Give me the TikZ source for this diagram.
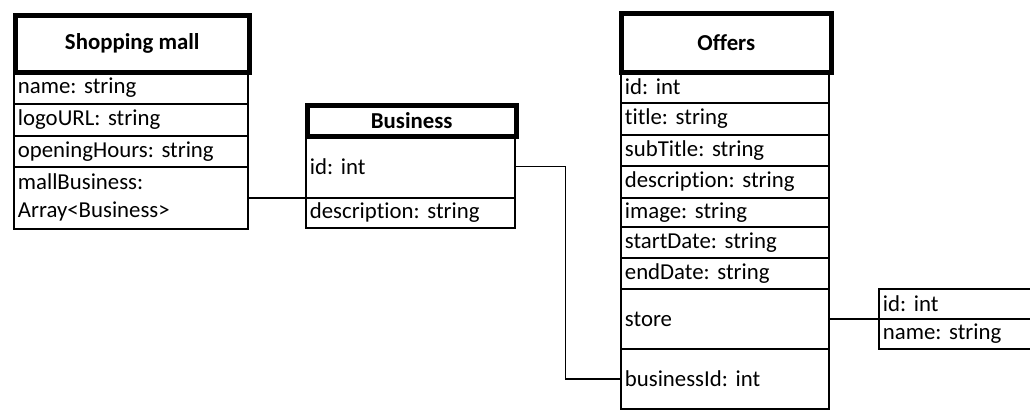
\documentclass[tikz,border=0pt]{standalone}
\usepackage{fontspec}
\setmainfont[Ligatures=NoCommon]{Carlito}
\tikzset{
  x=1pt, y=-1pt,
  cellbase/.style={draw=black, line width=1.8pt, anchor=north west, inner xsep=4pt, inner ysep=0pt,
    align=left, font=\fontsize{22.8}{28}\selectfont\frenchspacing},
  cell/.code 2 args={\pgfmathsetmacro\cwtmp{#1-8}\edef\cwdo{\noexpand\tikzset{cellbase, minimum width=#1pt, minimum height=#2pt, text width=\cwtmp pt}}\cwdo},
  headbox/.style 2 args={draw=black, line width=4.5pt, anchor=north west, inner sep=0pt,
    minimum width=#1pt, minimum height=#2pt, align=center, font=\fontsize{22.8}{28}\selectfont\bfseries},
  link/.style={draw=black, line width=1.8pt},
  thinlink/.style={draw=black, line width=1.3pt},
}
\begin{document}
\begin{tikzpicture}
\clip (0,0) rectangle (1030,410);
\fill[white] (0,0) rectangle (1030,410);
% Shopping mall
\node[cell={234}{33}] (sm1) at (13,70) {name: string};
\node[cell={234}{32}] (sm2) at (13,103) {logoURL: string};
\node[cell={234}{31}] (sm3) at (13,135) {openingHours: string};
\node[cell={234}{62}] (sm4) at (13,166) {mallBusiness:\\Array<Business>};
\node[headbox={234}{57}] (smh) at (13,13) {Shopping mall};
% Business
\node[cell={209}{63}] (bid) at (305,134) {id: int};
\node[cell={209}{30}] (bdesc) at (305,197) {description: string};
\node[headbox={209}{31}] (bh) at (305,103) {Business};
% Offers
\node[cell={208}{32}] (o1) at (620,70) {id: int};
\node[cell={208}{32}] (o2) at (620,102) {title: string};
\node[cell={208}{31}] (o3) at (620,134) {subTitle: string};
\node[cell={208}{32}] (o4) at (620,165) {description: string};
\node[cell={208}{29}] (o5) at (620,197) {image: string};
\node[cell={208}{31}] (o6) at (620,226) {startDate: string};
\node[cell={208}{31}] (o7) at (620,257) {endDate: string};
\node[cell={208}{60}] (ostore) at (620,288) {store};
\node[cell={208}{60}] (obiz) at (620,348) {businessId: int};
\node[headbox={210}{59}] (oh) at (619,11) {Offers};
% Store
\node[cell={170}{30}] (sid) at (878,288) {id: int};
\node[cell={170}{30}] (sname) at (878,318) {name: string};
% connectors
\draw[link] (sm4.east) -- (sm4.east -| bdesc.west);
\draw[thinlink] (bid.east) -- ++(50,0) |- (obiz.west);
\draw[link] (ostore.east) -- (ostore.east -| sid.west);
\end{tikzpicture}
\end{document}
